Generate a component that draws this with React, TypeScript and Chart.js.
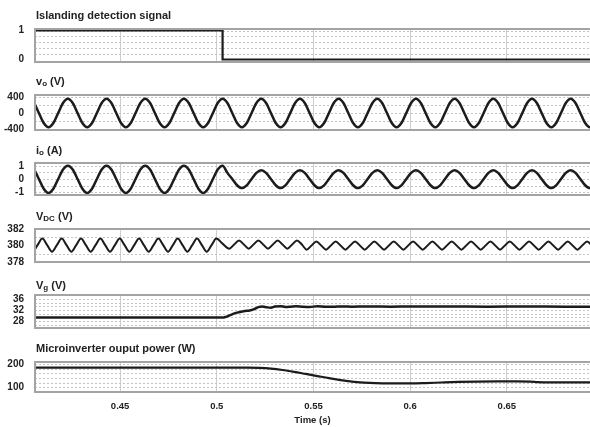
import React, { useEffect, useRef } from "react";
import { Chart, registerables } from "chart.js";

Chart.register(...registerables);

const FONT = "'Liberation Sans', Arial, Helvetica, sans-serif";

// ---------- time axis ----------
const timeMin = 0.406;
const timeMax = 0.693;
const timeTicks = [0.45, 0.5, 0.55, 0.6, 0.65];
const timeTickLabels = ["0.45", "0.5", "0.55", "0.6", "0.65"];

// ---------- islanding detection signal ----------
const islandTime = [0.4, 0.503, 0.503, 0.7];
const islandValues = [1, 1, 0, 0];

// ---------- shared time samples for vo and io (s) ----------
const acTime = [
  0.403, 0.4055, 0.408, 0.4105, 0.413, 0.4155, 0.418, 0.4205,
  0.423, 0.4255, 0.428, 0.4305, 0.433, 0.4355, 0.438, 0.4405,
  0.443, 0.4455, 0.448, 0.4505, 0.453, 0.4555, 0.458, 0.4605,
  0.463, 0.4655, 0.468, 0.4705, 0.473, 0.4755, 0.478, 0.4805,
  0.483, 0.4855, 0.488, 0.4905, 0.493, 0.4955, 0.498, 0.5005,
  0.503, 0.5055, 0.508, 0.5105, 0.513, 0.5155, 0.518, 0.5205,
  0.523, 0.5255, 0.528, 0.5305, 0.533, 0.5355, 0.538, 0.5405,
  0.543, 0.5455, 0.548, 0.5505, 0.553, 0.5555, 0.558, 0.5605,
  0.563, 0.5655, 0.568, 0.5705, 0.573, 0.5755, 0.578, 0.5805,
  0.583, 0.5855, 0.588, 0.5905, 0.593, 0.5955, 0.598, 0.6005,
  0.603, 0.6055, 0.608, 0.6105, 0.613, 0.6155, 0.618, 0.6205,
  0.623, 0.6255, 0.628, 0.6305, 0.633, 0.6355, 0.638, 0.6405,
  0.643, 0.6455, 0.648, 0.6505, 0.653, 0.6555, 0.658, 0.6605,
  0.663, 0.6655, 0.668, 0.6705, 0.673, 0.6755, 0.678, 0.6805,
  0.683, 0.6855, 0.688, 0.6905, 0.693, 0.6955, 0.698, 0.7005,
];

// ---------- vo (V) ----------
const voValues = [
  355, 251, 0, -251, -355, -251, 0, 251,
  355, 251, 0, -251, -355, -251, 0, 251,
  355, 251, 0, -251, -355, -251, 0, 251,
  355, 251, 0, -251, -355, -251, 0, 251,
  355, 251, 0, -251, -355, -251, 0, 251,
  355, 251, 0, -251, -355, -251, 0, 251,
  355, 251, 0, -251, -355, -251, 0, 251,
  355, 251, 0, -251, -355, -251, 0, 251,
  355, 251, 0, -251, -355, -251, 0, 251,
  355, 251, 0, -251, -355, -251, 0, 251,
  355, 251, 0, -251, -355, -251, 0, 251,
  355, 251, 0, -251, -355, -251, 0, 251,
  355, 251, 0, -251, -355, -251, 0, 251,
  355, 251, 0, -251, -355, -251, 0, 251,
  355, 251, 0, -251, -355, -251, 0, 251,
];

// ---------- io (A) ----------
const ioValues = [
  1.02, 0.73, 0, -0.75, -1.07, -0.75, 0, 0.73,
  1.02, 0.73, 0, -0.75, -1.07, -0.75, 0, 0.73,
  1.02, 0.73, 0, -0.75, -1.07, -0.75, 0, 0.73,
  1.02, 0.73, 0, -0.75, -1.07, -0.75, 0, 0.73,
  1.02, 0.73, 0, -0.75, -1.07, -0.75, 0, 0.73,
  1.02, 0.47, 0, -0.48, -0.7, -0.49, 0, 0.47,
  0.67, 0.47, 0, -0.48, -0.7, -0.49, 0, 0.47,
  0.67, 0.47, 0, -0.48, -0.7, -0.49, 0, 0.47,
  0.67, 0.47, 0, -0.48, -0.7, -0.49, 0, 0.47,
  0.67, 0.47, 0, -0.48, -0.7, -0.49, 0, 0.47,
  0.67, 0.47, 0, -0.48, -0.7, -0.49, 0, 0.47,
  0.67, 0.47, 0, -0.48, -0.7, -0.49, 0, 0.47,
  0.67, 0.47, 0, -0.48, -0.7, -0.49, 0, 0.47,
  0.67, 0.47, 0, -0.48, -0.7, -0.49, 0, 0.47,
  0.67, 0.47, 0, -0.48, -0.7, -0.49, 0, 0.47,
];

// ---------- VDC (V) ----------
const vdcTime = [
  0.4023, 0.4048, 0.4073, 0.4098,
  0.4123, 0.4148, 0.4173, 0.4198,
  0.4223, 0.4248, 0.4273, 0.4298,
  0.4323, 0.4348, 0.4373, 0.4398,
  0.4423, 0.4448, 0.4473, 0.4498,
  0.4523, 0.4548, 0.4573, 0.4598,
  0.4623, 0.4648, 0.4673, 0.4698,
  0.4723, 0.4748, 0.4773, 0.4798,
  0.4823, 0.4848, 0.4873, 0.4898,
  0.4923, 0.4948, 0.4973, 0.4998,
  0.5031,
  0.5065, 0.509, 0.5115, 0.514,
  0.5165, 0.519, 0.5215, 0.524,
  0.5265, 0.529, 0.5315, 0.534,
  0.5365, 0.539, 0.5415, 0.544,
  0.5465, 0.549, 0.5515, 0.554,
  0.5565, 0.559, 0.5615, 0.564,
  0.5665, 0.569, 0.5715, 0.574,
  0.5765, 0.579, 0.5815, 0.584,
  0.5865, 0.589, 0.5915, 0.594,
  0.5965, 0.599, 0.6015, 0.604,
  0.6065, 0.609, 0.6115, 0.614,
  0.6165, 0.619, 0.6215, 0.624,
  0.6265, 0.629, 0.6315, 0.634,
  0.6365, 0.639, 0.6415, 0.644,
  0.6465, 0.649, 0.6515, 0.654,
  0.6565, 0.659, 0.6615, 0.664,
  0.6665, 0.669, 0.6715, 0.674,
  0.6765, 0.679, 0.6815, 0.684,
  0.6865, 0.689, 0.6915, 0.694,
  0.6965, 0.699,
];
const vdcValues = [
  380.05, 379.25, 380.05, 380.85,
  380.05, 379.25, 380.05, 380.85,
  380.05, 379.25, 380.05, 380.85,
  380.05, 379.25, 380.05, 380.85,
  380.05, 379.25, 380.05, 380.85,
  380.05, 379.25, 380.05, 380.85,
  380.05, 379.25, 380.05, 380.85,
  380.05, 379.25, 380.05, 380.85,
  380.05, 379.25, 380.05, 380.85,
  380.05, 379.25, 380.05, 380.85,
  380.2,
  379.62, 380.12, 380.62, 380.12,
  379.62, 380.12, 380.62, 380.12,
  379.62, 380.12, 380.62, 380.12,
  379.62, 380.12, 380.62, 380.12,
  379.5, 380.0, 380.5, 380.0,
  379.5, 380.0, 380.5, 380.0,
  379.5, 380.0, 380.5, 380.0,
  379.5, 380.0, 380.5, 380.0,
  379.5, 380.0, 380.5, 380.0,
  379.5, 380.0, 380.5, 380.0,
  379.5, 380.0, 380.5, 380.0,
  379.5, 380.0, 380.5, 380.0,
  379.5, 380.0, 380.5, 380.0,
  379.5, 380.0, 380.5, 380.0,
  379.5, 380.0, 380.5, 380.0,
  379.5, 380.0, 380.5, 380.0,
  379.5, 380.0, 380.5, 380.0,
  379.5, 380.0, 380.5, 380.0,
  379.5, 380.0, 380.5, 380.0,
  379.5, 380.0,
];

// ---------- Vg (V) ----------
const vgTime = [
  0.4, 0.503, 0.5045, 0.507, 0.51, 0.5145, 0.517, 0.519, 0.5215, 0.5235,
  0.526, 0.528, 0.53, 0.533, 0.5355, 0.538, 0.541, 0.5445, 0.548, 0.552,
  0.556, 0.56, 0.565, 0.57, 0.575, 0.58, 0.59, 0.6, 0.62, 0.64, 0.66, 0.68, 0.7,
];
const vgValues = [
  29.3, 29.3, 29.5, 30.2, 31.0, 31.7, 31.9, 32.3, 33.1, 33.3,
  33.0, 32.9, 33.3, 33.45, 33.15, 33.25, 33.45, 33.25, 33.15, 33.4,
  33.25, 33.2, 33.35, 33.25, 33.3, 33.35, 33.25, 33.3, 33.3, 33.25, 33.3, 33.25, 33.25,
];

// ---------- Microinverter output power (W) ----------
const powerTime = [
  0.4, 0.516, 0.522, 0.528, 0.534, 0.54, 0.546, 0.552, 0.558, 0.564,
  0.57, 0.576, 0.582, 0.59, 0.6, 0.608, 0.616, 0.625, 0.635, 0.645,
  0.655, 0.662, 0.666, 0.672, 0.7,
];
const powerValues = [
  184, 184, 183, 180, 174, 166, 157, 148, 139, 131,
  124, 120, 117.5, 116.5, 116.5, 118, 120.5, 123, 124.5, 125,
  125, 124.5, 122, 121, 121,
];

// ---------- y tick labels ----------
const islandTicks = [0, 1];
const voTicks = [-400, 0, 400];
const ioTicks = [-1, 0, 1];
const vdcTicks = [378, 380, 382];
const vgTicks = [28, 32, 36];
const powerTicks = [100, 200];

type Panel = {
  key: string;
  frameTop: number;
  frameBottom: number;
  min: number;
  max: number;
  ticks: number[];
  minor: number[];
  time: number[];
  values: number[];
  lineWidth: number;
  smooth: boolean;
};

const panels: Panel[] = [
  { key: "island", frameTop: 29, frameBottom: 62, min: -0.086, max: 1.052, ticks: islandTicks,
    minor: [0.2, 0.4, 0.6, 0.8, 1.0], time: islandTime, values: islandValues, lineWidth: 2.2, smooth: false },
  { key: "vo", frameTop: 95, frameBottom: 130, min: -425, max: 450, ticks: voTicks,
    minor: [-400, -200, 0, 200, 400], time: acTime, values: voValues, lineWidth: 2.5, smooth: true },
  { key: "io", frameTop: 163, frameBottom: 195, min: -1.23, max: 1.23, ticks: ioTicks,
    minor: [-1, -0.5, 0, 0.5, 1], time: acTime, values: ioValues, lineWidth: 2.5, smooth: true },
  { key: "vdc", frameTop: 229, frameBottom: 262, min: 378, max: 382, ticks: vdcTicks,
    minor: [379, 381], time: vdcTime, values: vdcValues, lineWidth: 2, smooth: true },
  { key: "vg", frameTop: 295, frameBottom: 328, min: 25.5, max: 37.5, ticks: vgTicks,
    minor: [26.67, 28, 29.33, 30.67, 32, 33.33, 34.67, 36, 37.33], time: vgTime, values: vgValues, lineWidth: 2.5, smooth: true },
  { key: "power", frameTop: 362, frameBottom: 392, min: 80, max: 208, ticks: powerTicks,
    minor: [100, 120, 140, 160, 180, 200], time: powerTime, values: powerValues, lineWidth: 2.2, smooth: true },
];

const PAD = 26;
const XAXIS_H = 35;

const decoPlugin = {
  id: "panelDeco",
  beforeDatasetsDraw(chart: any, _args: any, opts: any) {
    const { ctx, chartArea: a, scales } = chart;
    const y = scales.y;
    ctx.save();
    ctx.beginPath();
    ctx.rect(a.left, a.top, a.right - a.left, a.bottom - a.top);
    ctx.clip();
    ctx.strokeStyle = "#c4c4c4";
    ctx.lineWidth = 1;
    ctx.setLineDash([2, 2]);
    for (const v of opts.minor || []) {
      const py = Math.round(y.getPixelForValue(v)) + 0.5;
      ctx.beginPath();
      ctx.moveTo(a.left, py);
      ctx.lineTo(a.right, py);
      ctx.stroke();
    }
    ctx.restore();
  },
  afterDraw(chart: any) {
    const { ctx, chartArea: a } = chart;
    ctx.save();
    ctx.strokeStyle = "#a4a4a4";
    ctx.lineWidth = 2;
    ctx.strokeRect(a.left, a.top, a.right - a.left + 6, a.bottom - a.top);
    ctx.restore();
  },
};

function PanelChart({ p, last }: { p: Panel; last: boolean }) {
  const ref = useRef<HTMLCanvasElement>(null);
  const top = p.frameTop - PAD;
  const height = last ? 427 - top : p.frameBottom - p.frameTop + 2 * PAD;

  useEffect(() => {
    const canvas = ref.current;
    if (!canvas) return;
    const chart = new Chart(canvas, {
      type: "line",
      data: {
        datasets: [
          {
            data: p.time.map((t, i) => ({ x: t, y: p.values[i] })),
            borderColor: "#1c1c1c",
            borderWidth: p.lineWidth,
            pointRadius: 0,
            fill: false,
            tension: 0,
            cubicInterpolationMode: p.smooth ? "monotone" : "default",
          } as any,
        ],
      },
      options: {
        animation: false,
        responsive: false,
        maintainAspectRatio: false,
        events: [],
        layout: { padding: { top: PAD, bottom: last ? 0 : PAD, left: 0, right: 0 } },
        plugins: {
          legend: { display: false },
          tooltip: { enabled: false },
          title: { display: false },
          panelDeco: { minor: p.minor },
        } as any,
        scales: {
          x: {
            type: "linear",
            min: timeMin,
            max: timeMax,
            afterBuildTicks: (s: any) => {
              s.ticks = timeTicks.map((v) => ({ value: v }));
            },
            afterFit: (s: any) => {
              s.height = last ? XAXIS_H : 0;
            },
            grid: { color: "#cdcdcd", lineWidth: 1, drawTicks: false },
            border: { display: false },
            ticks: {
              display: last,
              padding: 9,
              color: "#222",
              font: { family: FONT, size: 9.5, weight: "bold" },
              callback: (v: any) => {
                const i = timeTicks.indexOf(Number(v));
                return i >= 0 ? timeTickLabels[i] : "";
              },
            },
            title: {
              display: last,
              text: "Time (s)",
              color: "#222",
              font: { family: FONT, size: 9.5, weight: "bold" },
              padding: { top: 0, bottom: 1 },
            },
          },
          y: {
            type: "linear",
            min: p.min,
            max: p.max,
            afterBuildTicks: (s: any) => {
              s.ticks = p.ticks.map((v) => ({ value: v }));
            },
            afterFit: (s: any) => {
              s.width = 35;
            },
            grid: { display: false, drawTicks: false },
            border: { display: false },
            ticks: {
              padding: 11,
              color: "#222",
              font: { family: FONT, size: 10, weight: "bold" },
              callback: (v: any) => String(v),
            },
          },
        } as any,
      },
      plugins: [decoPlugin as any],
    });
    return () => chart.destroy();
  }, []);

  return (
    <canvas
      ref={ref}
      width={590}
      height={height}
      style={{ position: "absolute", left: 0, top, width: 590, height, display: "block" }}
    />
  );
}

const titleStyle = (centerY: number): React.CSSProperties => ({
  position: "absolute",
  left: 36,
  top: centerY - 7,
  height: 14,
  lineHeight: "14px",
  fontFamily: FONT,
  fontWeight: "bold",
  fontSize: 11,
  color: "#222",
  whiteSpace: "nowrap",
});

const sub: React.CSSProperties = { fontSize: 8, position: "relative", top: 1 };

export default function App() {
  return (
    <div
      style={{
        position: "absolute",
        left: 0,
        top: 0,
        width: 590,
        height: 427,
        background: "#ffffff",
        overflow: "hidden",
      }}
    >
      {panels.map((p, i) => (
        <PanelChart key={p.key} p={p} last={i === panels.length - 1} />
      ))}
      <div style={titleStyle(15)}>Islanding detection signal</div>
      <div style={titleStyle(81)}>
        v<span style={sub}>o</span> (V)
      </div>
      <div style={titleStyle(150)}>
        i<span style={sub}>o</span> (A)
      </div>
      <div style={titleStyle(216)}>
        V<span style={sub}>DC</span> (V)
      </div>
      <div style={titleStyle(285)}>
        V<span style={sub}>g</span> (V)
      </div>
      <div style={titleStyle(348)}>Microinverter ouput power (W)</div>
    </div>
  );
}
